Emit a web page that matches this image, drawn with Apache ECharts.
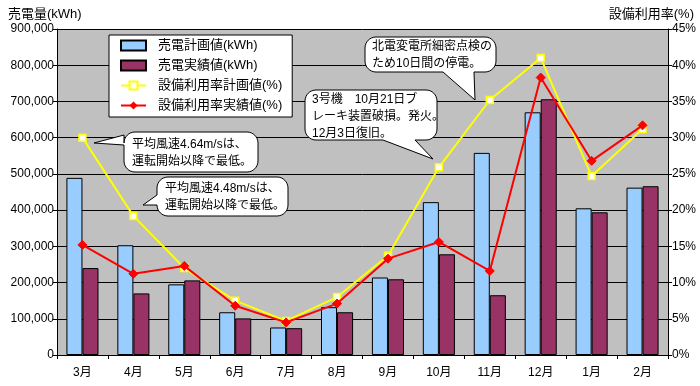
<!DOCTYPE html>
<html><head><meta charset="utf-8">
<script src="https://cdn.jsdelivr.net/npm/echarts@6/dist/echarts.min.js"></script>
<style>html,body{margin:0;padding:0;background:#fff}#c{width:700px;height:386px}</style>
</head><body><div id="c"></div>
<script>
const months = ['3月','4月','5月','6月','7月','8月','9月','10月','11月','12月','1月','2月'];
const planKWh = [489000, 303000, 195000, 118000, 76000, 132000, 214000, 422000, 558000, 670000, 405000, 462000];
const actualKWh = [240000, 170000, 206000, 101000, 74000, 118000, 209000, 278000, 165000, 706000, 394000, 466000];
const planRate = [30.0, 19.2, 12.0, 7.5, 4.7, 8.0, 13.7, 25.9, 35.2, 41.0, 24.7, 31.2];
const actualRate = [15.2, 11.2, 12.3, 6.8, 4.5, 7.1, 13.3, 15.6, 11.6, 38.3, 26.8, 31.7];
const leftTicks = {min: 0, max: 900000, interval: 100000};
const rightTicks = {min: 0, max: 45, interval: 5};

const FONT = '"Liberation Sans", "Noto Sans CJK JP", sans-serif';

function bubblePoints(x, y, w, h, r, ptr) {
  const pts = [];
  function arc(cx, cy, a0, a1) {
    const n = 8;
    for (let i = 0; i <= n; i++) {
      const a = (a0 + (a1 - a0) * i / n) * Math.PI / 180;
      pts.push([cx + r * Math.cos(a), cy + r * Math.sin(a)]);
    }
  }
  arc(x + w - r, y + r, -90, 0);
  arc(x + w - r, y + h - r, 0, 90);
  if (ptr.edge === 'bottom') {
    pts.push([ptr.b, y + h], ptr.tip, [ptr.a, y + h]);
  }
  arc(x + r, y + h - r, 90, 180);
  if (ptr.edge === 'left') {
    pts.push([x, ptr.b], ptr.tip, [x, ptr.a]);
  }
  arc(x + r, y + r, 180, 270);
  return pts;
}
function bubble(x, y, w, h, ptr, text, tx, ty) {
  return [
    {type: 'polygon', z: 100, shape: {points: bubblePoints(x, y, w, h, 11, ptr)},
     style: {fill: '#fff', stroke: '#000', lineWidth: 1}},
    {type: 'text', z: 101, left: tx, top: ty,
     style: {text: text, fill: '#000', font: '12px ' + FONT, lineHeight: 17}}
  ];
}

const chart = echarts.init(document.getElementById('c'));
chart.setOption({
  animation: false,
  backgroundColor: '#fff',
  textStyle: {fontFamily: FONT},
  grid: {left: 57, right: 32, top: 29, bottom: 31, show: true, backgroundColor: '#C0C0C0', borderWidth: 0},
  legend: {
    orient: 'vertical', left: 109, top: 35, width: 187,
    padding: [4, 10, 5, 11], itemGap: 7, itemWidth: 25, itemHeight: 10,
    backgroundColor: '#fff', borderColor: '#000', borderWidth: 1,
    textStyle: {fontSize: 13, color: '#000', fontFamily: FONT, padding: [0, 0, 0, 7]},
    data: [
      {name: '売電計画値(kWh)', icon: 'rect'},
      {name: '売電実績値(kWh)', icon: 'rect'},
      {name: '設備利用率計画値(%)'},
      {name: '設備利用率実績値(%)'}
    ]
  },
  xAxis: {
    type: 'category', data: months,
    axisLine: {lineStyle: {color: '#000', width: 1}},
    axisTick: {show: true, length: 4, lineStyle: {color: '#000'}},
    axisLabel: {color: '#000', fontSize: 12, margin: 12, fontFamily: FONT}
  },
  yAxis: [
    {type: 'value', min: leftTicks.min, max: leftTicks.max, interval: leftTicks.interval,
     axisLine: {show: true, lineStyle: {color: '#000'}},
     axisTick: {show: true, length: 4, lineStyle: {color: '#000'}},
     splitLine: {show: true, lineStyle: {color: '#000', width: 1}},
     axisLabel: {color: '#000', fontSize: 12, margin: 3, fontFamily: FONT,
       formatter: v => v.toLocaleString('en-US')}},
    {type: 'value', min: rightTicks.min, max: rightTicks.max, interval: rightTicks.interval,
     axisLine: {show: true, lineStyle: {color: '#000'}},
     axisTick: {show: true, length: 4, lineStyle: {color: '#000'}},
     splitLine: {show: false},
     axisLabel: {color: '#000', fontSize: 12, margin: 4, fontFamily: FONT, formatter: '{value}%'}}
  ],
  series: [
    {name: '売電計画値(kWh)', type: 'bar', data: planKWh, barGap: '0%', barCategoryGap: '37%',
     itemStyle: {color: '#99CCFF', borderColor: '#000', borderWidth: 1}},
    {name: '売電実績値(kWh)', type: 'bar', data: actualKWh,
     itemStyle: {color: '#993366', borderColor: '#000', borderWidth: 1}},
    {name: '設備利用率計画値(%)', type: 'line', yAxisIndex: 1, data: planRate,
     symbol: 'rect', symbolSize: 7, showAllSymbol: true,
     lineStyle: {color: '#FFFF00', width: 2},
     itemStyle: {color: '#fff', borderColor: '#FFFF00', borderWidth: 1.5}, z: 5},
    {name: '設備利用率実績値(%)', type: 'line', yAxisIndex: 1, data: actualRate,
     symbol: 'diamond', symbolSize: 9, showAllSymbol: true,
     lineStyle: {color: '#FF0000', width: 2},
     itemStyle: {color: '#FF0000', borderColor: '#FF0000'}, z: 6}
  ],
  graphic: [
    {type: 'text', left: 8, top: 8, style: {text: '売電量(kWh)', fill: '#000', font: '13px ' + FONT}},
    {type: 'text', right: 6, top: 8, style: {text: '設備利用率(%)', fill: '#000', font: '13px ' + FONT}},
    ...bubble(124, 132, 134, 40, {edge: 'left', a: 135, b: 145, tip: [94, 143]},
      '平均風速4.64m/sは、\n運転開始以降で最低。', 132, 136),
    ...bubble(157, 177, 131, 39, {edge: 'left', a: 195, b: 205, tip: [143, 205]},
      '平均風速4.48m/sは、\n運転開始以降で最低。', 165, 180),
    ...bubble(305, 90, 132, 50, {edge: 'bottom', a: 383, b: 415, tip: [433, 159]},
      '3号機　10月21日ブ\nレーキ装置破損。発火。\n12月3日復旧。', 312, 91),
    ...bubble(365, 37, 131, 35, {edge: 'bottom', a: 443, b: 474, tip: [475, 100]},
      '北電変電所細密点検の\nため10日間の停電。', 372, 38)
  ]
});
</script>
</body></html>
